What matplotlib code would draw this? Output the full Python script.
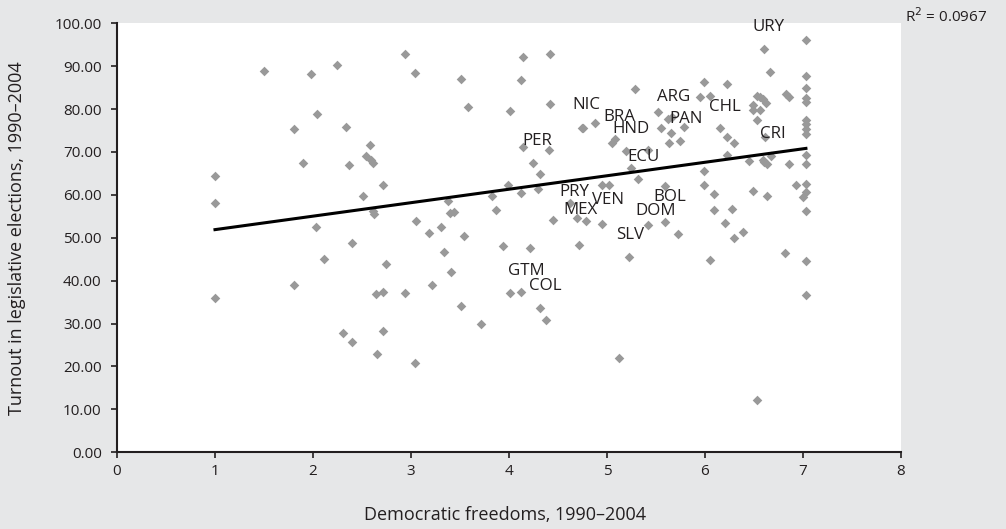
import numpy as np
import matplotlib
matplotlib.use("Agg")
import matplotlib.pyplot as plt

plt.rcParams['font.family'] = ['Open Sans', 'DejaVu Sans']

# democratic freedoms (x) and turnout (y)
freedom = [1.00, 1.00, 1.00, 1.50, 1.81, 1.81, 1.90, 1.98, 2.04, 2.03, 2.11, 2.24,
           2.31, 2.34, 2.37, 2.40, 2.40, 2.51, 2.54, 2.58, 2.59, 2.61, 2.61, 2.62,
           2.64, 2.65, 2.71, 2.71, 2.71, 2.74, 2.94, 2.94, 3.04, 3.04, 3.05, 3.18,
           3.21, 3.31, 3.34, 3.38, 3.40, 3.41, 3.44, 3.51, 3.51, 3.54, 3.58, 3.71,
           3.83, 3.87, 3.94, 3.99, 4.01, 4.01, 4.12, 4.12, 4.12, 4.14, 4.14, 4.21,
           4.24, 4.30, 4.32, 4.32, 4.38, 4.41, 4.42, 4.42, 4.45, 4.62, 4.69, 4.71,
           4.74, 4.76, 4.79, 4.88, 4.95, 4.95, 5.02, 5.05, 5.08, 5.12, 5.19, 5.22,
           5.25, 5.29, 5.32, 5.42, 5.42, 5.52, 5.55, 5.59, 5.59, 5.62, 5.63, 5.65,
           5.66, 5.72, 5.75, 5.79, 5.95, 5.99, 5.99, 5.99, 6.05, 6.05, 6.09, 6.09,
           6.15, 6.20, 6.22, 6.22, 6.22, 6.28, 6.30, 6.30, 6.39, 6.45, 6.49, 6.49,
           6.49, 6.53, 6.53, 6.53, 6.56, 6.56, 6.59, 6.59, 6.60, 6.60, 6.61, 6.62,
           6.63, 6.63, 6.66, 6.67, 6.82, 6.83, 6.86, 6.86, 6.93, 7.00, 7.03, 7.03,
           7.03, 7.03, 7.03, 7.03, 7.03, 7.03, 7.03, 7.03, 7.03, 7.03, 7.03, 7.03,
           7.03, 7.03]
turnout = [64.5, 58.0, 36.0, 88.8, 75.3, 39.1, 67.4, 88.1, 78.8, 52.6, 45.0, 90.2,
           27.8, 75.9, 67.0, 48.8, 25.8, 59.8, 69.1, 71.7, 68.1, 67.5, 56.2, 55.5,
           37.0, 22.9, 62.3, 37.4, 28.2, 43.9, 92.9, 37.1, 88.4, 20.9, 54.0, 51.0,
           39.0, 52.6, 46.8, 58.5, 55.8, 42.0, 56.0, 87.0, 34.1, 50.3, 80.4, 30.0,
           59.8, 56.5, 48.1, 62.3, 79.5, 37.1, 86.7, 60.5, 37.3, 92.1, 71.2, 47.7,
           67.4, 61.4, 64.8, 33.7, 30.8, 70.5, 92.9, 81.2, 54.1, 58.2, 54.6, 48.4,
           75.7, 75.6, 53.8, 76.7, 62.4, 53.3, 62.4, 72.0, 73.0, 21.9, 70.3, 45.5,
           66.2, 84.7, 63.6, 70.5, 53.0, 79.4, 75.7, 62.1, 53.6, 77.6, 72.0, 74.5,
           78.1, 50.8, 72.6, 75.9, 82.7, 86.2, 65.5, 62.4, 83.1, 44.9, 60.3, 56.5,
           75.7, 53.4, 85.8, 73.5, 69.3, 56.7, 72.2, 49.9, 51.3, 68.0, 80.9, 79.8,
           60.9, 83.0, 77.4, 12.3, 82.7, 79.8, 82.3, 68.1, 94.0, 67.6, 73.6, 81.5,
           67.2, 59.8, 88.6, 69.1, 46.4, 83.6, 82.7, 67.1, 62.2, 59.5, 96.0, 87.8,
           85.0, 82.5, 81.7, 77.4, 76.5, 75.3, 74.3, 69.3, 67.2, 62.6, 60.6, 56.3,
           44.5, 36.7]

# country labels (text positions)
countries = ['URY', 'NIC', 'BRA', 'HND', 'PER', 'ECU', 'ARG', 'PAN', 'CHL', 'CRI',
             'PRY', 'VEN', 'MEX', 'BOL', 'DOM', 'SLV', 'GTM', 'COL']
label_x = [6.65, 4.79, 5.13, 5.25, 4.29, 5.37, 5.68, 5.81, 6.20, 6.69,
           4.67, 5.01, 4.73, 5.64, 5.50, 5.24, 4.18, 4.37]
label_y = [99.2, 80.9, 78.1, 75.3, 72.6, 68.9, 82.7, 77.6, 80.5, 74.1,
           60.6, 58.7, 56.5, 59.4, 56.3, 50.7, 42.3, 38.8]

# linear trend as drawn in the chart
trend_intercept = 48.76
trend_slope = 3.14
r_squared = 0.0967

bg = '#e6e7e8'
ink = '#231f20'

fig = plt.figure(figsize=(10.06, 5.29), dpi=100, facecolor=bg)
ax = fig.add_axes([0.1163, 0.145, 0.7793, 0.811])
ax.set_facecolor('white')

ax.scatter(freedom, turnout, marker='D', s=24, color='#999999', linewidths=0, zorder=2)

tx = np.array([min(freedom), max(freedom)])
ax.plot(tx, trend_intercept + trend_slope * tx, color='black', lw=2.2, zorder=3)

for name, lx, ly in zip(countries, label_x, label_y):
    ax.text(lx, ly, name, ha='center', va='center', fontsize=12.2, color=ink, zorder=4)

ax.set_xlim(0, 8)
ax.set_ylim(0, 100)
ax.set_xticks(range(0, 9))
ax.set_yticks(range(0, 101, 10))
ax.set_yticklabels(['%.2f' % v for v in range(0, 101, 10)])
ax.tick_params(labelsize=11, colors=ink, length=4, width=1.2)
ax.tick_params(axis='y', pad=7)
ax.tick_params(axis='x', pad=4.5)

for s in ['top', 'right']:
    ax.spines[s].set_visible(False)
for s in ['left', 'bottom']:
    ax.spines[s].set_color(ink)
    ax.spines[s].set_linewidth(1.5)

fig.text(505 / 1006, 1 - 515 / 529, 'Democratic freedoms, 1990–2004', ha='center', va='center',
         fontsize=13, color=ink)
fig.text(17 / 1006, 1 - 238 / 529, 'Turnout in legislative elections, 1990–2004', ha='center',
         va='center', rotation=90, fontsize=13, color=ink)

fig.text(0.9, 0.968, 'R$^2$ = %.4f' % r_squared, ha='left', va='center',
         fontsize=11, color=ink)

fig.savefig('out.png', dpi=100, facecolor=bg)
